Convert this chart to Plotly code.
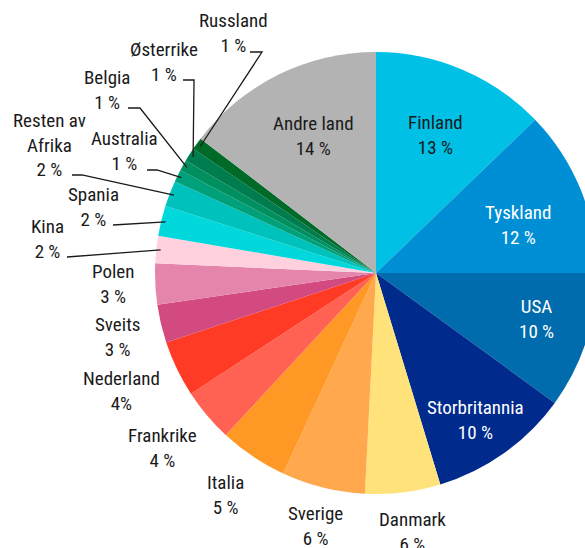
import math
import plotly.graph_objects as go

# slices clockwise from 12 o'clock
countries = [
    "Finland", "Tyskland", "USA", "Storbritannia", "Danmark", "Sverige",
    "Italia", "Frankrike", "Nederland", "Sveits", "Polen", "Kina", "Spania",
    "Resten av Afrika", "Australia", "Belgia", "Østerrike", "Russland", "Andre land",
]
shares = [12.8, 12.2, 10.0, 10.3, 5.5, 6.1, 5.0, 3.9, 4.1, 2.8, 3.0, 2.0, 2.2,
          1.9, 0.9, 0.8, 1.0, 0.9, 14.6]
pct_labels = ["13 %", "12 %", "10 %", "10 %", "6 %", "6 %", "5 %", "4 %", "4%",
              "3 %", "3 %", "2 %", "2 %", "2 %", "1 %", "1 %", "1 %", "1 %", "14 %"]

colors = [
    "#00c0e6", "#008fd5", "#006cad", "#002b8c", "#ffe27a", "#ffa84e",
    "#ff9824", "#ff6152", "#ff3b25", "#d24a80", "#e585ab", "#ffd1df", "#00d8dc",
    "#00c2bd", "#00a07a", "#00905f", "#007d4e", "#006a28", "#b3b3b3",
]

W, H = 605, 548
CX, CY, R = 376, 273, 221
FONT = "Roboto Condensed, DejaVu Sans Condensed, sans-serif"

# label block centres (px), text colour
label_pos = {
    "Finland": (435, 135), "Tyskland": (518, 225), "USA": (536, 319),
    "Storbritannia": (475, 420), "Andre land": (313, 136), "Danmark": (412, 532),
    "Sverige": (315, 526), "Italia": (225, 495), "Frankrike": (162, 448),
    "Nederland": (121, 391), "Sveits": (117, 337), "Polen": (113, 284),
    "Kina": (47, 239), "Spania": (93, 207), "Resten av Afrika": (49, 145),
    "Australia": (124, 151), "Belgia": (107, 90), "Østerrike": (164, 62),
    "Russland": (233, 33),
}
white_text = {"Tyskland", "USA", "Storbritannia"}

# leader line start points (px), the end is put on the slice
connectors = {
    "Russland": [(250, 52), (262, 52)],
    "Østerrike": [(183, 80), (194, 80)],
    "Belgia": [(128, 108), (140, 108)],
    "Australia": [(147, 170), (157, 170)],
    "Resten av Afrika": [(72, 175), (82, 175)],
    "Spania": [(113, 225)],
    "Kina": [(67, 257)],
}


def px(x, y):
    return x / W, 1 - y / H


fig = go.Figure()
fig.add_trace(
    go.Pie(
        labels=countries,
        values=shares,
        sort=False,
        direction="clockwise",
        rotation=0,
        marker=dict(colors=colors, line=dict(width=0)),
        textinfo="none",
        hoverinfo="label+percent",
        showlegend=False,
        domain=dict(x=[(CX - R) / W, (CX + R) / W],
                    y=[(H - CY - R) / H, (H - CY + R) / H]),
    )
)

total = sum(shares)
cum = 0
for name, val, pct in zip(countries, shares, pct_labels):
    mid = (cum + val / 2) / total * 2 * math.pi
    cum += val
    x, y = px(*label_pos[name])
    fig.add_annotation(
        x=x, y=y, xref="paper", yref="paper",
        text=name.replace("Resten av ", "Resten av<br>") + "<br>" + pct,
        showarrow=False, xanchor="center", yanchor="middle", align="center",
        font=dict(family=FONT, size=19,
                  color="white" if name in white_text else "#1a1a1a"),
    )
    if name in connectors:
        pts = connectors[name] + [(CX + 0.98 * R * math.sin(mid),
                                   CY - 0.98 * R * math.cos(mid))]
        path = "M " + " L ".join("%.4f %.4f" % px(a, b) for a, b in pts)
        fig.add_shape(type="path", path=path, xref="paper", yref="paper",
                      line=dict(color="#1a1a1a", width=1.3))

fig.update_layout(
    width=W,
    height=H,
    margin=dict(l=0, r=0, t=0, b=0),
    paper_bgcolor="white",
    plot_bgcolor="white",
    font=dict(family=FONT, size=19),
)

fig.write_html(
    "out.html",
    config={"displayModeBar": False},
    post_script="document.body.style.margin='0';"
                "document.body.style.overflow='hidden';"
                "document.documentElement.style.overflow='hidden';",
)
